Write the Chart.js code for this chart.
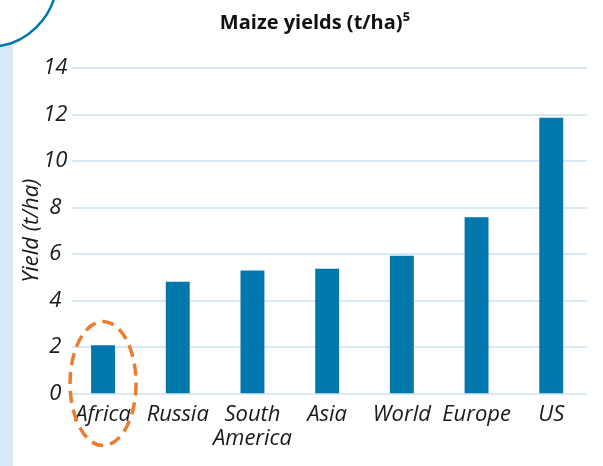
<!DOCTYPE html>
<html><head><meta charset="utf-8">
<script src="https://cdn.jsdelivr.net/npm/chart.js@4.4.1/dist/chart.umd.min.js"></script>
<style>html,body{margin:0;padding:0;background:#fff;}#wrap{width:603px;height:466px;position:relative;}</style>
</head><body><div id="wrap"><canvas id="c" width="603" height="466"></canvas></div>
<script>
const categories = ['Africa', 'Russia', ['South', 'America'], 'Asia', 'World', 'Europe', 'US'];
const yields = [2.08, 4.81, 5.29, 5.37, 5.93, 7.58, 11.86];
const yTicks = [0, 2, 4, 6, 8, 10, 12, 14];
const chartTitle = 'Maize yields (t/ha)\u2075';
const yTitle = 'Yield (t/ha)';

const FONT = '"Open Sans"';
const BAR = '#0077ad';
const GRID = '#d9e8f5';

const decor = {
  id: 'decor',
  beforeDraw(chart) {
    const ctx = chart.ctx;
    ctx.save();
    ctx.fillStyle = '#d9e8f5';
    ctx.fillRect(0, 44, 13, 466 - 44);
    ctx.beginPath();
    ctx.arc(-12, -22, 69, 0, Math.PI / 2);
    ctx.fillStyle = '#fff';
    ctx.fill();
    ctx.strokeStyle = BAR;
    ctx.lineWidth = 2.5;
    ctx.stroke();
    ctx.fillStyle = '#111';
    ctx.font = 'bold 20px ' + FONT;
    ctx.textAlign = 'center';
    ctx.textBaseline = 'alphabetic';
    ctx.fillText(chartTitle, 315, 29);
    ctx.restore();
  },
  beforeDatasetsDraw(chart) {
    const ctx = chart.ctx, y = chart.scales.y;
    ctx.save();
    ctx.strokeStyle = GRID;
    ctx.lineWidth = 2;
    yTicks.forEach(v => {
      const py = Math.round(y.getPixelForValue(v));
      ctx.beginPath();
      ctx.moveTo(72, py);
      ctx.lineTo(587, py);
      ctx.stroke();
    });
    ctx.restore();
  },
  afterDraw(chart) {
    const ctx = chart.ctx, x = chart.scales.x;
    ctx.save();
    ctx.strokeStyle = '#ec7c30';
    ctx.lineWidth = 3.5;
    ctx.setLineDash([12, 7]);
    ctx.beginPath();
    ctx.ellipse(x.getPixelForValue(0), 383.5, 33, 62, 0, 0, Math.PI * 2);
    ctx.stroke();
    ctx.restore();
  }
};

new Chart(document.getElementById('c'), {
  type: 'bar',
  data: {
    labels: categories,
    datasets: [{
      data: yields,
      backgroundColor: BAR,
      borderWidth: 0,
      barPercentage: 0.32,
      categoryPercentage: 1.0
    }]
  },
  options: {
    responsive: false,
    animation: false,
    devicePixelRatio: 1,
    layout: { padding: { top: 68, right: 14.4, bottom: 0, left: 0 } },
    plugins: { legend: { display: false }, title: { display: false }, tooltip: { enabled: false } },
    scales: {
      x: {
        grid: { display: false, drawTicks: false },
        border: { display: false },
        afterFit(s) { s.height = 72.5; },
        ticks: {
          color: '#1a1a1a',
          padding: 9,
          maxRotation: 0,
          autoSkip: false,
          font: { family: FONT, size: 22, style: 'italic', lineHeight: 1.1 }
        }
      },
      y: {
        min: 0, max: 14,
        afterFit(s) { s.width = 65.7; },
        afterBuildTicks(s) { s.ticks = yTicks.map(v => ({ value: v })); },
        grid: { display: false, drawTicks: false },
        border: { display: false },
        ticks: {
          color: '#1a1a1a',
          mirror: true,
          padding: -22.5,
          crossAlign: 'center',
          font: { family: FONT, size: 22, style: 'italic' }
        },
        title: {
          display: true,
          text: yTitle,
          color: '#1a1a1a',
          padding: { top: 19, bottom: 0 },
          font: { family: FONT, size: 22, style: 'italic' }
        }
      }
    }
  },
  plugins: [decor]
});
</script></body></html>
